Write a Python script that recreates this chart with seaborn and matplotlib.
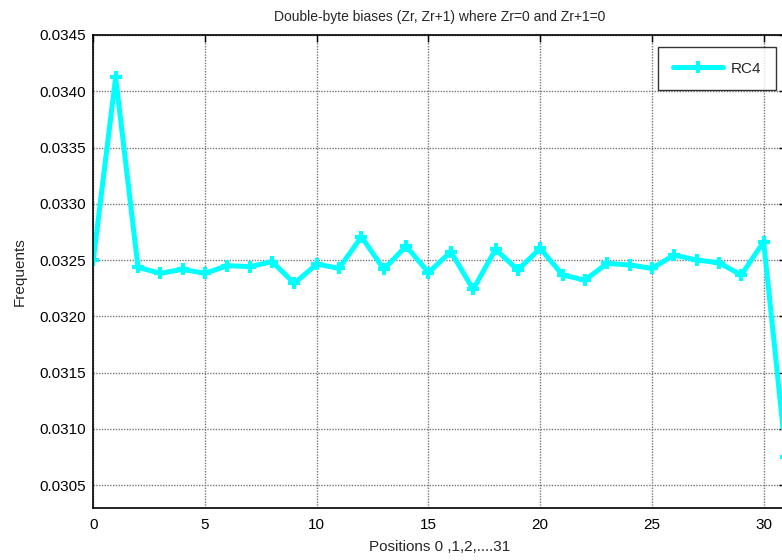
import matplotlib
matplotlib.use("Agg")
import matplotlib.pyplot as plt
import seaborn as sns
import pandas as pd
import numpy as np
from matplotlib.ticker import MultipleLocator, FormatStrFormatter

positions = list(range(32))
rc4_values = [0.03250, 0.034124, 0.032435, 0.032382, 0.032417, 0.032382, 0.032450, 0.032441,
              0.032485, 0.032293, 0.032464, 0.032426, 0.032707, 0.032417, 0.032624, 0.032388,
              0.032574, 0.032239, 0.032595, 0.032411, 0.032604, 0.032367, 0.032322, 0.032470,
              0.032456, 0.032426, 0.032544, 0.032500, 0.032476, 0.032367, 0.032663, 0.030750]
series_name = "RC4"
title = "Double-byte biases (Zr, Zr+1) where Zr=0 and Zr+1=0"
xlabel = "Positions 0 ,1,2,....31"
ylabel = "Frequents"

sns.set_style("white")
plt.rcParams['font.family'] = ['Liberation Sans', 'DejaVu Sans']

df = pd.DataFrame({"pos": positions, "val": rc4_values, "series": series_name})

fig = plt.figure(figsize=(7.82, 5.60), dpi=100)
ax = fig.add_axes([93.3/782, 52/560, (786-93.3)/782, (508-35)/560])

sns.lineplot(data=df, x="pos", y="val", hue="series", palette={series_name: "#00FFFF"},
             ax=ax, linewidth=3.6, marker="+", markersize=9, markeredgewidth=3,
             markeredgecolor="#00FFFF")

ax.set_xlim(0, 31)
ax.set_ylim(0.030296, 0.0345)
ax.xaxis.set_major_locator(MultipleLocator(5))
ax.yaxis.set_major_locator(MultipleLocator(0.0005))
ax.yaxis.set_minor_locator(MultipleLocator(0.00025))
ax.yaxis.set_major_formatter(FormatStrFormatter('%.4f'))
ax.tick_params(axis='both', which='both', direction='in', top=True, right=True,
               labelsize=11, colors='black')
ax.tick_params(axis='x', pad=7)
ax.tick_params(axis='y', pad=5)
ax.tick_params(which='major', length=5, width=1)
ax.tick_params(which='minor', length=3, width=1)
ax.grid(True, which='major', color='#777777', linestyle=(0, (1, 1)), linewidth=1.0)
for s in ax.spines.values():
    s.set_color('black')
    s.set_linewidth(1.2)

ax.set_title(title, fontsize=10, pad=10)
ax.set_xlabel(xlabel, fontsize=11, labelpad=6)
ax.set_ylabel(ylabel, fontsize=11, labelpad=9)

leg = ax.legend(loc='upper right', bbox_to_anchor=(0.9856, 0.9746), fontsize=11,
                frameon=True, fancybox=False, edgecolor='black', handlelength=3.3,
                borderpad=0.95, borderaxespad=0, handletextpad=0.5)
leg.get_frame().set_linewidth(1.0)

fig.savefig("out.png", dpi=100)
